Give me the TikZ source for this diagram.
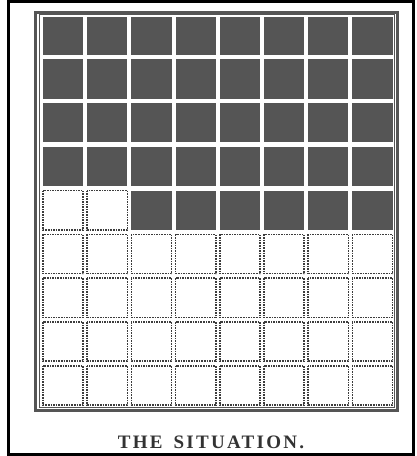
\documentclass[tikz,border=0pt]{standalone}
\usepackage{fontspec}
\newfontfamily\capfont[LetterSpace=12]{Liberation Serif}
\definecolor{ink}{RGB}{85,85,85}
\definecolor{dotink}{RGB}{60,60,60}
\begin{document}
\begin{tikzpicture}[x=1pt,y=-1pt,
  darkcell/.style={fill=ink},
  whitecell/.style={draw=dotink,line width=1.6pt,densely dotted},
  gridframe/.style={draw=ink,line width=3pt},
  outerframe/.style={draw=black,line width=3pt}]
\useasboundingbox (0,0) rectangle (416,456);
\fill[white] (0,0) rectangle (416,456);
\draw[outerframe] (8.5,1.5) rectangle (413.5,454.5);
\draw[gridframe] (35.5,12.5) rectangle (397,410);
\draw[ink,line width=0.8pt] (39,14.8) rectangle (394.8,407.8);
\foreach \i in {0,...,7}{
  \foreach \j in {0,...,8}{
    \pgfmathsetmacro{\xa}{41+44.2*\i+2}
    \pgfmathsetmacro{\xb}{41+44.2*(\i+1)-2}
    \pgfmathsetmacro{\ya}{13+43.78*\j+(\j==0 ? 4 : 2.5)}
    \pgfmathsetmacro{\yb}{13+43.78*(\j+1)-2}
    \pgfmathtruncatemacro{\isdark}{(\j<4) || (\j==4 && \i>1) ? 1 : 0}
    \ifnum\isdark=1
      \fill[darkcell] (\xa,\ya) rectangle (\xb,\yb);
    \else
      \draw[whitecell] (\xa,\ya) rectangle (\xb,\yb);
    \fi
  }
}
\node[font=\capfont\bfseries\fontsize{19}{19}\selectfont,text=black!80,anchor=base,inner sep=0pt] (caption) at (211,448) {THE\hspace{4pt} SITUATION.};
\end{tikzpicture}
\end{document}
